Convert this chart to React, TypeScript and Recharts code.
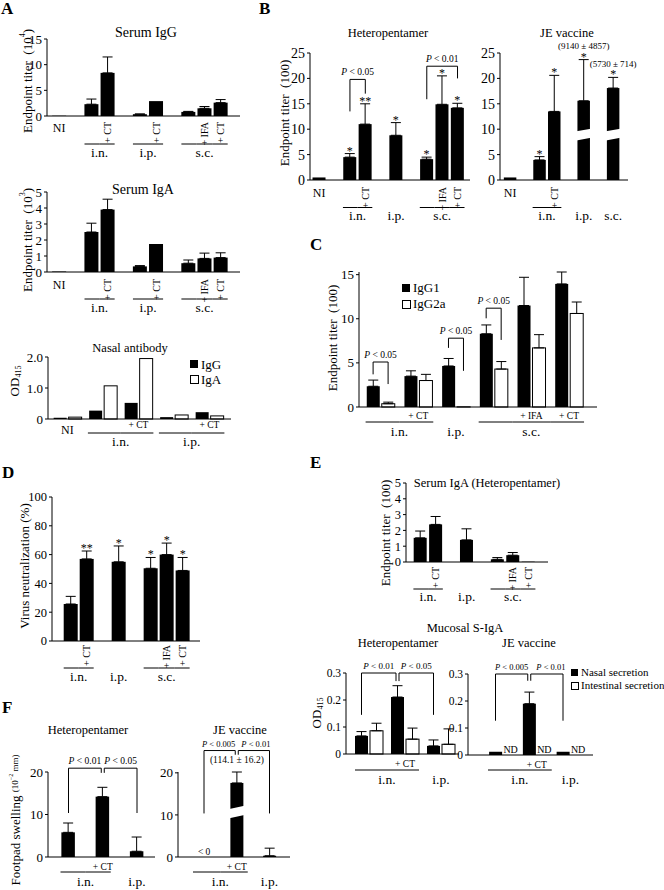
import React from "react";
import { Bar, BarChart, ErrorBar, ReferenceLine, XAxis, YAxis } from "recharts";

const FONT = "'Liberation Serif', 'Times New Roman', Times, serif";

// ---------- A: serum IgG / IgA, nasal antibody ----------
const aSlots = ["NI", "s1", "in", "inCT", "s2", "ip", "ipCT", "s3", "sc", "scIFA", "scCT"];
const aLabels = ["NI", "", "", "+ CT", "", "", "+ CT", "", "", "+ IFA", "+ CT"];
const aGroups = ["", "", "i.n.", "i.n.", "", "i.p.", "i.p.", "", "s.c.", "s.c.", "s.c."];
const serumIgG = [0.05, null, 2.3, 8.4, null, 0.35, 2.9, null, 0.8, 1.5, 2.6];
const serumIgGErr = [0, null, 1.0, 3.1, null, 0.05, 0, null, 0.1, 0.35, 0.6];
const serumIgA = [0.03, null, 2.5, 3.9, null, 0.35, 1.75, null, 0.55, 0.85, 0.9];
const serumIgAErr = [0, null, 0.55, 0.65, null, 0.05, 0, null, 0.2, 0.33, 0.3];

const nasalCats = ["NI", "in", "inCT", "ip", "ipCT"];
const nasalLabels = ["NI", "", "+ CT", "", "+ CT"];
const nasalGroups = ["", "i.n.", "i.n.", "i.p.", "i.p."];
const nasalIgG = [0.04, 0.27, 0.52, 0.06, 0.22];
const nasalIgA = [0.06, 1.07, 1.95, 0.13, 0.1];

// ---------- B: heteropentamer vs JE vaccine ----------
const hpSlots = ["NI", "s1", "in", "inCT", "s2", "ip", "s3", "sc", "scIFA", "scCT"];
const hpLabels = ["NI", "", "", "+ CT", "", "", "", "", "+ IFA", "+ CT"];
const hpGroups = ["", "", "i.n.", "i.n.", "", "i.p.", "", "s.c.", "s.c.", "s.c."];
const hpTiter = [0.5, null, 4.5, 11.0, null, 8.8, null, 4.1, 14.9, 14.2];
const hpTiterErr = [0, null, 0.7, 4.0, null, 2.5, null, 0.4, 5.6, 0.9];
const hpStars = ["", "", "*", "**", "", "*", "", "*", "*", "*"];

const jeSlots = ["NI", "s1", "in", "inCT", "s2", "ip", "s3", "sc"];
const jeLabels = ["NI", "", "", "+ CT", "", "", "", ""];
const jeGroups = ["", "", "i.n.", "i.n.", "", "i.p.", "", "s.c."];
const jeTiter = [0.5, null, 3.95, 13.5, null, 15.6, null, 18.1];
const jeTiterErr = [0, null, 0.65, 7.1, null, 8.1, null, 2.1];
const jeStars = ["", "", "*", "*", "", "*", "", "*"];
const jeNotes = ["", "", "", "", "", "(9140 ± 4857)", "", "(5730 ± 714)"];
const jeBroken = [false, false, false, false, false, true, false, true];

// ---------- C: IgG subclasses ----------
const subCats = ["in", "inCT", "ip", "sc", "scIFA", "scCT"];
const subLabels = ["", "+ CT", "", "", "+ IFA", "+ CT"];
const subGroups = ["i.n.", "i.n.", "i.p.", "s.c.", "s.c.", "s.c."];
const igG1 = [2.35, 3.5, 4.65, 8.3, 11.5, 13.95];
const igG1Err = [0.7, 0.6, 0.85, 1.0, 3.2, 1.35];
const igG2a = [0.37, 3.0, 0.02, 4.3, 6.7, 10.6];
const igG2aErr = [0.18, 0.7, 0, 0.85, 1.5, 1.3];

// ---------- D / E: neutralization, serum IgA ----------
const vnSlots = ["in", "inCT", "s1", "ip", "s2", "sc", "scIFA", "scCT"];
const vnLabels = ["", "+ CT", "", "", "", "", "+ IFA", "+ CT"];
const vnGroups = ["i.n.", "i.n.", "", "i.p.", "", "s.c.", "s.c.", "s.c."];
const neutralization = [25.7, 57, null, 55, null, 50.5, 60, 49];
const neutralizationErr = [5.3, 5.5, null, 11, null, 7.5, 8, 9];
const vnStars = ["", "**", "", "*", "", "*", "*", "*"];
const serumIgAHp = [1.53, 2.38, null, 1.4, null, 0.17, 0.43, 0.02];
const serumIgAHpErr = [0.43, 0.5, null, 0.7, null, 0.11, 0.17, 0];

// ---------- E: mucosal S-IgA ----------
const mucCats = ["in", "inCT", "ip"];
const mucLabels = ["", "+ CT", ""];
const mucGroups = ["i.n.", "i.n.", "i.p."];
const hpNasal = [0.067, 0.211, 0.03];
const hpNasalErr = [0.016, 0.042, 0.022];
const hpIntestinal = [0.086, 0.055, 0.036];
const hpIntestinalErr = [0.028, 0.041, 0.057];
const jeNasal = [0.012, 0.19, 0.012];
const jeNasalErr = [0, 0.043, 0];
const jeIntestinal = [0, 0, 0];
const jeIntestinalNote = ["ND", "ND", "ND"];

// ---------- F: footpad swelling ----------
const fpCats = ["in", "inCT", "ip"];
const fpLabels = ["", "+ CT", ""];
const fpGroups = ["i.n.", "i.n.", "i.p."];
const fpHp = [5.8, 14.2, 1.35];
const fpHpErr = [2.2, 2.2, 3.35];
const fpJe = [0, 17.6, 0.3];
const fpJeErr = [0, 2.6, 1.8];
const fpJeNotes = ["< 0", "(114.1 ± 16.2)", ""];
const fpJeBroken = [false, true, false];

function rows(ids: string[], cols: Record<string, any[]>) {
  return ids.map((id, i) => {
    const r: any = { id };
    for (const k in cols) r[k] = cols[k][i];
    return r;
  });
}

type Br = {
  a: string; b: string; top: number; lowA: number; lowB: number; text: string;
  dxA?: number; dxB?: number; tdx?: number;
};

type SeriesCfg = {
  key: string;
  err?: string;
  fill: string;
  star?: string;
  note?: string;
  noteGap?: number;
  noteSize?: number;
  brk?: { key: string; lo: number; hi: number; slant: number };
};

type TickCfg = {
  rotate: boolean;
  rotTop?: number;
  niDy?: number;
  hDy?: number;
  lineDy: number;
  groupDy: number;
  ext: number;
};

type PanelCfg = {
  data: any[];
  slots: string[];
  labels: string[];
  groups: string[];
  axisX: number;
  plotTop: number;
  plotBottom: number;
  right: number;
  box: [number, number, number, number]; // left, top, right, bottom
  first: number;
  band: number;
  domain: [number, number];
  ticks: number[];
  fmt?: (v: number) => string;
  tickFont?: number;
  series: SeriesCfg[];
  barSize: number;
  barGap?: number;
  tick: TickCfg;
  brackets?: Br[];
  brFont?: number;
};

const errOf = (key?: string) => (d: any) => {
  if (!key) return null;
  const r = d && d.payload ? d.payload : d;
  const e = r ? r[key] : null;
  return e ? [0, e] : null;
};

function makeShape(s: SeriesCfg) {
  return (p: any) => {
    const row = p.payload ?? {};
    const v = row[s.key];
    const { x, y, width, height } = p;
    if (v == null || !Number.isFinite(x) || !Number.isFinite(y)) return <g />;
    const h = Number.isFinite(height) ? Math.max(height, 0) : 0;
    const base = y + h;
    const unit = v > 0 && h > 0 ? h / v : 0;
    const err = s.err ? row[s.err] ?? 0 : 0;
    const errTop = y - err * unit;
    const cx = x + width / 2;
    const white = s.fill === "#fff";
    const parts: any[] = [
      <rect key="r" x={x} y={y} width={width} height={h} fill={s.fill} stroke={white ? "#000" : "none"} strokeWidth={1} />,
    ];
    if (s.brk && row[s.brk.key] && unit) {
      const yv = (t: number) => base - t * unit;
      const { lo, hi, slant } = s.brk;
      parts.push(
        <polygon
          key="b"
          points={`${x - 1},${yv(lo)} ${x + width + 1},${yv(lo + slant)} ${x + width + 1},${yv(hi + slant)} ${x - 1},${yv(hi)}`}
          fill="#fff"
        />
      );
    }
    if (s.star && row[s.star]) {
      parts.push(
        <text key="s" x={cx} y={errTop + 1} textAnchor="middle" fontSize={12} fontFamily={FONT} fill="#000">
          {row[s.star]}
        </text>
      );
    }
    if (s.note && row[s.note]) {
      const ny = unit ? errTop - (s.noteGap ?? 8) : base - 2;
      parts.push(
        <text key="n" x={cx} y={ny} textAnchor="middle" fontSize={s.noteSize ?? 10} fontFamily={FONT} fill="#000">
          {row[s.note]}
        </text>
      );
    }
    return <g>{parts}</g>;
  };
}

function makeTick(c: PanelCfg) {
  const t = c.tick;
  return (props: any) => {
    const { x, y, payload } = props;
    const i = c.slots.indexOf(payload?.value);
    if (i < 0) return <g />;
    const out: any[] = [];
    const lab = c.labels[i];
    if (lab === "NI") {
      out.push(
        <text key="ni" x={x} y={y + (t.niDy ?? 16)} textAnchor="middle" fontSize={12}>
          NI
        </text>
      );
    } else if (lab && t.rotate) {
      out.push(
        <text
          key="l"
          transform={`translate(${x},${y + (t.rotTop ?? 6)}) rotate(-90)`}
          textAnchor="end"
          dominantBaseline="central"
          fontSize={10}
        >
          {lab}
        </text>
      );
    } else if (lab) {
      out.push(
        <text key="l" x={x} y={y + (t.hDy ?? 10)} textAnchor="middle" fontSize={9.5}>
          {lab}
        </text>
      );
    }
    const g = c.groups[i];
    if (g) {
      let s = i;
      while (s > 0 && c.groups[s - 1] === g) s--;
      let e = i;
      while (e < c.groups.length - 1 && c.groups[e + 1] === g) e++;
      if (e > s) {
        const x0 = i === s ? x - t.ext : x - c.band / 2;
        const x1 = i === e ? x + t.ext : x + c.band / 2;
        out.push(<line key="g" x1={x0} x2={x1} y1={y + t.lineDy} y2={y + t.lineDy} stroke="#000" strokeWidth={1} />);
      }
      if (i === s) {
        out.push(
          <text key="gl" x={x + ((e - s) * c.band) / 2} y={y + t.groupDy} textAnchor="middle" fontSize={13.5}>
            {g}
          </text>
        );
      }
    }
    return (
      <g fontFamily={FONT} fill="#000">
        {out}
      </g>
    );
  };
}

function bracketLines(list: Br[], size: number) {
  return list.flatMap((br, k) => {
    const dxA = br.dxA ?? 0;
    const dxB = br.dxB ?? 0;
    const tdx = br.tdx ?? 0;
    const seg = (key: string, p1: any, p2: any, d1: number, d2: number, label?: string) => (
      <ReferenceLine
        key={`br${k}${key}`}
        segment={[p1, p2]}
        ifOverflow="visible"
        stroke="#000"
        shape={(p: any) => (
          <g>
            <line x1={p.x1 + d1} y1={p.y1} x2={p.x2 + d2} y2={p.y2} stroke="#000" strokeWidth={1} />
            {label ? (
              <text
                x={(p.x1 + d1 + p.x2 + d2) / 2 + tdx}
                y={p.y1 - 4}
                textAnchor="middle"
                fontSize={size}
                fontFamily={FONT}
                fill="#000"
              >
                <tspan fontStyle="italic">P</tspan>
                {label}
              </text>
            ) : null}
          </g>
        )}
      />
    );
    return [
      seg("a", { x: br.a, y: br.lowA }, { x: br.a, y: br.top }, dxA, dxA),
      seg("t", { x: br.a, y: br.top }, { x: br.b, y: br.top }, dxA, dxB, br.text),
      seg("b", { x: br.b, y: br.top }, { x: br.b, y: br.lowB }, dxB, dxB),
    ];
  });
}

function Panel({ c }: { c: PanelCfg }) {
  const n = c.slots.length;
  const [bl, bt, br, bb] = c.box;
  const padLeft = c.first - c.band / 2 - c.axisX;
  const padRight = c.right - (c.first + (n - 1) * c.band + c.band / 2);
  const Tick = makeTick(c);
  return (
    <div style={{ position: "absolute", left: bl, top: bt }}>
      <BarChart
        width={br - bl}
        height={bb - bt}
        data={c.data}
        margin={{ top: c.plotTop - bt, right: br - c.right, bottom: 0, left: 0 }}
        barGap={c.barGap ?? 2}
      >
        <XAxis
          dataKey="id"
          type="category"
          interval={0}
          tickLine={false}
          tickSize={0}
          tickMargin={0}
          axisLine={{ stroke: "#000" }}
          height={bb - c.plotBottom}
          padding={{ left: padLeft, right: padRight }}
          tick={Tick}
        />
        <YAxis
          type="number"
          domain={c.domain}
          ticks={c.ticks}
          interval={0}
          width={c.axisX - bl}
          tickFormatter={c.fmt}
          tick={{ fill: "#000", fontSize: c.tickFont ?? 13, fontFamily: FONT }}
          axisLine={{ stroke: "#000" }}
          tickLine={{ stroke: "#000" }}
          tickSize={3}
          tickMargin={2}
        />
        {c.series.map((s) => (
          <Bar key={s.key} dataKey={s.key} barSize={c.barSize} isAnimationActive={false} shape={makeShape(s)}>
            <ErrorBar dataKey={errOf(s.err)} width={5} stroke="#000" strokeWidth={1} direction="y" isAnimationActive={false} />
          </Bar>
        ))}
        {bracketLines(c.brackets ?? [], c.brFont ?? 9.5)}
      </BarChart>
    </div>
  );
}

const fmt1 = (v: number) => (v === 0 ? "0" : v.toFixed(1));
const black = (extra: Partial<SeriesCfg> = {}): SeriesCfg => ({ key: "v", err: "e", fill: "#000", ...extra });
const white = (extra: Partial<SeriesCfg> = {}): SeriesCfg => ({ key: "w", err: "f", fill: "#fff", ...extra });

const panels: PanelCfg[] = [
  {
    data: rows(aSlots, { v: serumIgG, e: serumIgGErr }),
    slots: aSlots, labels: aLabels, groups: aGroups,
    axisX: 47, plotTop: 39, plotBottom: 116, right: 240, box: [7, 29, 246, 162],
    first: 59.2, band: 16.15, domain: [0, 15], ticks: [0, 5, 10, 15],
    series: [black()], barSize: 14,
    tick: { rotate: true, rotTop: 6, niDy: 16, lineDy: 28, groupDy: 41, ext: 7 },
  },
  {
    data: rows(aSlots, { v: serumIgA, e: serumIgAErr }),
    slots: aSlots, labels: aLabels, groups: aGroups,
    axisX: 47, plotTop: 192, plotBottom: 272, right: 240, box: [7, 182, 246, 318],
    first: 59.2, band: 16.15, domain: [0, 5], ticks: [0, 1, 2, 3, 4, 5],
    series: [black()], barSize: 14,
    tick: { rotate: true, rotTop: 7, niDy: 17, lineDy: 27, groupDy: 40, ext: 7 },
  },
  {
    data: rows(nasalCats, { v: nasalIgG, w: nasalIgA }),
    slots: nasalCats, labels: nasalLabels, groups: nasalGroups,
    axisX: 48, plotTop: 357, plotBottom: 419, right: 231, box: [8, 345, 236, 452],
    first: 67.4, band: 35.5, domain: [0, 2], ticks: [0, 1, 2], fmt: fmt1,
    series: [black({ err: undefined }), white({ err: undefined })], barSize: 13, barGap: 2,
    tick: { rotate: false, niDy: 15, hDy: 8.5, lineDy: 14, groupDy: 27, ext: 15 },
  },
  {
    data: rows(hpSlots, { v: hpTiter, e: hpTiterErr, star: hpStars }),
    slots: hpSlots, labels: hpLabels, groups: hpGroups,
    axisX: 310, plotTop: 53, plotBottom: 180, right: 470, box: [272, 40, 476, 226],
    first: 319.2, band: 15.37, domain: [0, 25], ticks: [0, 5, 10, 15, 20, 25], tickFont: 14,
    series: [black({ star: "star" })], barSize: 13,
    tick: { rotate: true, rotTop: 7, niDy: 17, lineDy: 27.5, groupDy: 39.5, ext: 7 },
    brackets: [
      { a: "in", b: "inCT", top: 19.8, lowA: 13.5, lowB: 17.0, text: " < 0.05" },
      { a: "sc", b: "scCT", top: 22.4, lowA: 15.9, lowB: 20.0, text: " < 0.01" },
    ],
  },
  {
    data: rows(jeSlots, { v: jeTiter, e: jeTiterErr, star: jeStars, note: jeNotes, brk: jeBroken }),
    slots: jeSlots, labels: jeLabels, groups: jeGroups,
    axisX: 500, plotTop: 53, plotBottom: 180, right: 628, box: [462, 30, 662, 226],
    first: 510.2, band: 14.72, domain: [0, 25], ticks: [0, 5, 10, 15, 20, 25], tickFont: 14,
    series: [black({ star: "star", note: "note", noteGap: 10.5, noteSize: 9, brk: { key: "brk", lo: 7.8, hi: 9.6, slant: 0.5 } })],
    barSize: 12.5,
    tick: { rotate: true, rotTop: 7, niDy: 17, lineDy: 27.5, groupDy: 39.5, ext: 7 },
  },
  {
    data: rows(subCats, { v: igG1, e: igG1Err, w: igG2a, f: igG2aErr }),
    slots: subCats, labels: subLabels, groups: subGroups,
    axisX: 359, plotTop: 272, plotBottom: 407, right: 597, box: [322, 262, 602, 442],
    first: 380.6, band: 37.69, domain: [0, 15], ticks: [0, 5, 10, 15],
    series: [black(), white()], barSize: 13, barGap: 2,
    tick: { rotate: false, hDy: 11.5, lineDy: 15, groupDy: 28.5, ext: 15 },
    brackets: [
      { a: "in", b: "in", top: 5.1, lowA: 3.7, lowB: 2.6, text: " < 0.05", dxA: -7.5, dxB: 7.5 },
      { a: "ip", b: "ip", top: 7.8, lowA: 6.7, lowB: 4.1, text: " < 0.05", dxA: -7.5, dxB: 7.5 },
      { a: "sc", b: "sc", top: 11.2, lowA: 10.05, lowB: 7.6, text: " < 0.05", dxA: -7.5, dxB: 7.5 },
    ],
  },
  {
    data: rows(vnSlots, { v: neutralization, e: neutralizationErr, star: vnStars }),
    slots: vnSlots, labels: vnLabels, groups: vnGroups,
    axisX: 52, plotTop: 497, plotBottom: 641, right: 200, box: [12, 480, 205, 686],
    first: 70.7, band: 15.99, domain: [0, 100], ticks: [0, 20, 40, 60, 80, 100], tickFont: 12.5,
    series: [black({ star: "star" })], barSize: 14,
    tick: { rotate: true, rotTop: 4, lineDy: 27, groupDy: 40, ext: 7 },
  },
  {
    data: rows(vnSlots, { v: serumIgAHp, e: serumIgAHpErr }),
    slots: vnSlots, labels: vnLabels, groups: vnGroups,
    axisX: 406, plotTop: 483, plotBottom: 562, right: 548, box: [380, 475, 553, 606],
    first: 420.4, band: 15.43, domain: [0, 5], ticks: [0, 1, 2, 3, 4, 5], tickFont: 12.5,
    series: [black()], barSize: 13,
    tick: { rotate: true, rotTop: 5, lineDy: 27, groupDy: 39, ext: 7 },
  },
  {
    data: rows(mucCats, { v: hpNasal, e: hpNasalErr, w: hpIntestinal, f: hpIntestinalErr }),
    slots: mucCats, labels: mucLabels, groups: mucGroups,
    axisX: 346, plotTop: 673, plotBottom: 754, right: 459, box: [324, 650, 462, 792],
    first: 369, band: 36, domain: [0, 0.3], ticks: [0, 0.1, 0.2, 0.3], fmt: fmt1, tickFont: 11.5,
    series: [black(), white()], barSize: 13, barGap: 2,
    tick: { rotate: false, hDy: 13, lineDy: 16, groupDy: 30, ext: 14 },
    brFont: 9,
    brackets: [
      { a: "in", b: "inCT", top: 0.3, lowA: 0.145, lowB: 0.27, text: " < 0.01", dxA: -7.5, dxB: -9 },
      { a: "inCT", b: "ip", top: 0.3, lowA: 0.27, lowB: 0.145, text: " < 0.05", dxA: -6, dxB: -7.5 },
    ],
  },
  {
    data: rows(mucCats, { v: jeNasal, e: jeNasalErr, w: jeIntestinal, nd: jeIntestinalNote }),
    slots: mucCats, labels: mucLabels, groups: mucGroups,
    axisX: 468, plotTop: 674, plotBottom: 755, right: 593, box: [440, 650, 600, 792],
    first: 503, band: 33.75, domain: [0, 0.3], ticks: [0, 0.1, 0.2, 0.3], fmt: fmt1, tickFont: 11.5,
    series: [black(), white({ err: undefined, note: "nd", noteSize: 10 })], barSize: 13, barGap: 2,
    tick: { rotate: false, hDy: 13, lineDy: 15, groupDy: 29, ext: 15 },
    brFont: 8.5,
    brackets: [
      { a: "in", b: "inCT", top: 0.3, lowA: 0.127, lowB: 0.275, text: " < 0.005", dxA: -7.5, dxB: -9, tdx: 0 },
      { a: "inCT", b: "ip", top: 0.3, lowA: 0.275, lowB: 0.127, text: " < 0.01", dxA: -6, dxB: -7.5, tdx: 4 },
    ],
  },
  {
    data: rows(fpCats, { v: fpHp, e: fpHpErr }),
    slots: fpCats, labels: fpLabels, groups: fpGroups,
    axisX: 48, plotTop: 772, plotBottom: 857, right: 155, box: [20, 740, 160, 890],
    first: 68.5, band: 34.25, domain: [0, 20], ticks: [0, 10, 20],
    series: [black()], barSize: 13.5,
    tick: { rotate: false, hDy: 13, lineDy: 15, groupDy: 29, ext: 8 },
    brFont: 9.5,
    brackets: [
      { a: "in", b: "inCT", top: 20.9, lowA: 10.35, lowB: 19.8, text: " < 0.01", dxB: -1.5 },
      { a: "inCT", b: "ip", top: 20.9, lowA: 19.8, lowB: 10.35, text: " < 0.05", dxA: 1.5 },
    ],
  },
  {
    data: rows(fpCats, { v: fpJe, e: fpJeErr, note: fpJeNotes, brk: fpJeBroken }),
    slots: fpCats, labels: fpLabels, groups: fpGroups,
    axisX: 178, plotTop: 772, plotBottom: 857, right: 290, box: [150, 730, 296, 890],
    first: 204, band: 32.75, domain: [0, 20], ticks: [0, 10, 20],
    series: [black({ note: "note", noteGap: 9, noteSize: 9.5, brk: { key: "brk", lo: 9.2, hi: 11.4, slant: 0.8 } })],
    barSize: 13,
    tick: { rotate: false, hDy: 13, lineDy: 15, groupDy: 29, ext: 11 },
    brFont: 8.5,
    brackets: [
      { a: "in", b: "inCT", top: 25.3, lowA: 10.35, lowB: 24.3, text: " < 0.005", dxB: -1.5, tdx: -1 },
      { a: "inCT", b: "ip", top: 25.3, lowA: 24.3, lowB: 10.35, text: " < 0.01", dxA: 1.5, tdx: 2 },
    ],
  },
];

const nb = "\u00a0";

function VText({ x, y, size = 13, children }: { x: number; y: number; size?: number; children: any }) {
  return (
    <text transform={`translate(${x},${y}) rotate(-90)`} textAnchor="middle" dominantBaseline="central" fontSize={size} fill="#000">
      {children}
    </text>
  );
}

function Title({ x, y, size = 12.5, children }: { x: number; y: number; size?: number; children: any }) {
  return (
    <text x={x} y={y} textAnchor="middle" fontSize={size} fill="#000">
      {children}
    </text>
  );
}

function Overlay() {
  const letters: [string, number, number][] = [
    ["A", 1, 14], ["B", 259, 14], ["C", 310, 250], ["D", 2, 478], ["E", 310, 468], ["F", 2, 713],
  ];
  return (
    <svg width={664} height={890} style={{ position: "absolute", left: 0, top: 0, pointerEvents: "none" }} fontFamily={FONT}>
      {letters.map(([t, x, y]) => (
        <text key={t} x={x} y={y} fontSize={17} fontWeight="bold" fill="#000">
          {t}
        </text>
      ))}
      <Title x={146} y={36.5} size={14}>Serum IgG</Title>
      <Title x={143} y={193.5} size={14}>Serum IgA</Title>
      <Title x={130} y={351.5}>Nasal antibody</Title>
      <Title x={388} y={37}>Heteropentamer</Title>
      <Title x={567} y={37}>JE vaccine</Title>
      <Title x={487} y={487}>Serum IgA (Heteropentamer)</Title>
      <Title x={465} y={632}>Mucosal S-IgA</Title>
      <Title x={398} y={647}>Heteropentamer</Title>
      <Title x={529} y={647}>JE vaccine</Title>
      <Title x={88} y={734}>Heteropentamer</Title>
      <Title x={240} y={734}>JE vaccine</Title>

      <VText x={27} y={81}>
        {`Endpoint titer${nb}${nb}(10`}
        <tspan dy={-5} fontSize={8}>4</tspan>
        <tspan dy={5}>)</tspan>
      </VText>
      <VText x={27} y={240}>
        {`Endpoint titer${nb}${nb}(10`}
        <tspan dy={-5} fontSize={8}>3</tspan>
        <tspan dy={5}>)</tspan>
      </VText>
      <VText x={14} y={381}>
        OD<tspan dy={4} fontSize={8}>415</tspan>
      </VText>
      <VText x={284} y={113}>{`Endpoint titer${nb}${nb}(100)`}</VText>
      <VText x={332} y={338}>{`Endpoint titer${nb}${nb}(100)`}</VText>
      <VText x={24} y={566}>Virus neutralization (%)</VText>
      <VText x={385} y={533}>{`Endpoint titer${nb}${nb}(100)`}</VText>
      <VText x={316} y={713}>
        OD<tspan dy={4} fontSize={8}>415</tspan>
      </VText>
      <VText x={15} y={820}>
        {"Footpad swelling "}
        <tspan fontSize={9}>(10</tspan>
        <tspan fontSize={6} dy={-4}>−2</tspan>
        <tspan fontSize={9} dy={4}>{" mm)"}</tspan>
      </VText>

      {/* legends */}
      <rect x={190} y={360} width={8} height={8} fill="#000" />
      <text x={201} y={368.5} fontSize={13} fill="#000">IgG</text>
      <rect x={190.5} y={375.5} width={8} height={8} fill="#fff" stroke="#000" />
      <text x={201} y={384} fontSize={13} fill="#000">IgA</text>

      <rect x={402} y={284} width={8} height={8} fill="#000" />
      <text x={413} y={292} fontSize={13} fill="#000">IgG1</text>
      <rect x={402.5} y={300.5} width={8} height={8} fill="#fff" stroke="#000" />
      <text x={413} y={308} fontSize={13} fill="#000">IgG2a</text>

      <rect x={571} y={669} width={7} height={7} fill="#000" />
      <text x={581} y={676} fontSize={11} fill="#000">Nasal secretion</text>
      <rect x={571.5} y={682.5} width={7} height={7} fill="#fff" stroke="#000" />
      <text x={581} y={689} fontSize={11} fill="#000">Intestinal secretion</text>
    </svg>
  );
}

export default function App() {
  return (
    <div
      style={{
        position: "absolute",
        left: 0,
        top: 0,
        width: 664,
        height: 890,
        background: "#fff",
        fontFamily: FONT,
        overflow: "hidden",
      }}
    >
      {panels.map((c, i) => (
        <Panel key={i} c={c} />
      ))}
      <Overlay />
    </div>
  );
}
